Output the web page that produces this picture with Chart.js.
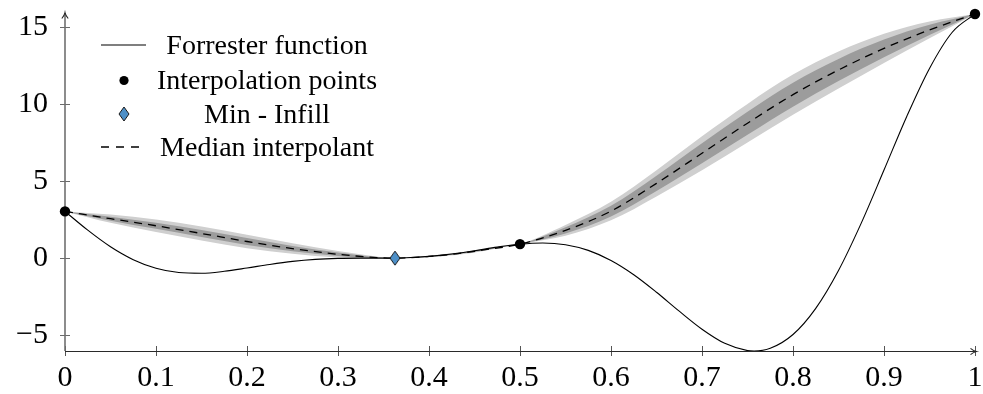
<!DOCTYPE html>
<html><head><meta charset="utf-8">
<script src="https://cdn.jsdelivr.net/npm/chart.js@4.4.1/dist/chart.umd.min.js"></script>
<style>html,body{margin:0;padding:0;background:#fff;}#wrap{width:983px;height:394px;}</style>
</head><body><div id="wrap"><canvas id="c" width="983" height="394"></canvas></div>
<script>
// ---- data ----
const funcX = [0,0.025,0.05,0.075,0.1,0.125,0.15,0.175,0.2,0.225,0.25,0.275,0.3,0.325,0.35,0.375,0.4,0.425,0.45,0.475,0.5,0.525,0.55,0.575,0.6,0.625,0.65,0.675,0.7,0.725,0.75,0.7572,0.775,0.8,0.825,0.85,0.875,0.9,0.925,0.95,0.975,1];
const funcY = [3.027,1.813,0.738,-0.100,-0.657,-0.935,-0.978,-0.854,-0.640,-0.407,-0.210,-0.079,-0.016,0.000,0.002,0.030,0.115,0.270,0.483,0.717,0.909,0.986,0.871,0.503,-0.150,-1.074,-2.209,-3.439,-4.606,-5.522,-5.993,-6.020,-5.845,-4.949,-3.254,-0.799,2.272,5.712,9.187,12.303,14.648,15.830];

const bandX      = [0,0.05,0.1,0.15,0.2,0.25,0.3,0.33,0.3626,0.4,0.43,0.46,0.5,0.55,0.6,0.65,0.7,0.75,0.8,0.85,0.9,0.95,1];
const medianY    = [3.03,2.56,2.10,1.60,1.08,0.62,0.25,0.09,0.00,0.11,0.28,0.53,0.91,1.80,3.05,4.85,6.80,8.75,10.60,12.20,13.60,14.80,15.83];
const outerHigh  = [3.03,2.83,2.51,2.05,1.51,0.96,0.46,0.20,0.00,0.16,0.35,0.59,0.91,2.15,3.65,5.70,7.90,10.00,11.90,13.40,14.55,15.35,15.83];
const outerLow   = [3.03,2.29,1.69,1.15,0.65,0.28,0.04,-0.01,0.00,0.06,0.21,0.47,0.91,1.45,2.45,4.00,5.70,7.50,9.30,11.00,12.65,14.25,15.83];
const innerHigh  = [3.03,2.69,2.30,1.83,1.30,0.79,0.36,0.14,0.00,0.135,0.315,0.56,0.91,2.00,3.40,5.35,7.45,9.50,11.38,12.92,14.17,15.13,15.83];
const innerLow   = [3.03,2.43,1.90,1.37,0.86,0.45,0.14,0.04,0.00,0.085,0.245,0.50,0.91,1.60,2.70,4.35,6.15,8.00,9.82,11.48,13.03,14.47,15.83];

const sampleX = [0, 0.5, 1];
const sampleY = [3.03, 0.91, 15.83];
const infillX = [0.3626];
const infillY = [0.0];

const xTicks = [0,0.1,0.2,0.3,0.4,0.5,0.6,0.7,0.8,0.9,1];
const xTickLabels = ['0','0.1','0.2','0.3','0.4','0.5','0.6','0.7','0.8','0.9','1'];
const yTicks = [-5,0,5,10,15];
const yTickLabels = ['\u22125','0','5','10','15'];
const legendLabels = ['Forrester function','Interpolation points','Min - Infill','Median interpolant'];

// ---- helpers ----
const pts = (xs, ys) => xs.map((x, i) => ({x: x, y: ys[i]}));
const FONT = '"Liberation Serif", "Times New Roman", serif';
const DIAMOND_FILL = '#4d8fc7';

function makeDiamond(w, h) {
  const c = document.createElement('canvas');
  c.width = w + 2; c.height = h + 2;
  const g = c.getContext('2d');
  g.beginPath();
  g.moveTo(c.width/2, 1); g.lineTo(c.width-1, c.height/2);
  g.lineTo(c.width/2, c.height-1); g.lineTo(1, c.height/2); g.closePath();
  g.fillStyle = DIAMOND_FILL; g.fill();
  g.lineWidth = 1; g.strokeStyle = '#1a1a1a'; g.stroke();
  return c;
}
const diamond = makeDiamond(10, 14);

const axesPlugin = {
  id: 'axesPlugin',
  beforeDatasetsDraw(chart) {
    const {ctx, chartArea: a, scales: {x, y}} = chart;
    ctx.save();
    ctx.lineWidth = 1;
    ctx.strokeStyle = '#6a6a6a';
    yTicks.forEach(v => {
      const py = Math.round(y.getPixelForValue(v)) + 0.5;
      ctx.beginPath(); ctx.moveTo(a.left - 5, py); ctx.lineTo(a.left + 5, py); ctx.stroke();
    });
    ctx.strokeStyle = '#555';
    xTicks.forEach(v => {
      const px = Math.round(x.getPixelForValue(v)) + 0.5;
      ctx.beginPath(); ctx.moveTo(px, a.bottom - 5); ctx.lineTo(px, a.bottom + 5); ctx.stroke();
    });
    // y axis
    ctx.strokeStyle = '#707070'; ctx.lineWidth = 1.6;
    const ax = a.left;
    ctx.beginPath(); ctx.moveTo(ax, a.bottom); ctx.lineTo(ax, a.top - 0.5); ctx.stroke();
    ctx.lineWidth = 1.1; ctx.strokeStyle = '#222';
    ctx.beginPath();
    ctx.moveTo(ax - 3.2, a.top + 4.5); ctx.quadraticCurveTo(ax - 0.6, a.top + 1.5, ax, a.top - 1.5);
    ctx.quadraticCurveTo(ax + 0.6, a.top + 1.5, ax + 3.2, a.top + 4.5);
    ctx.stroke();
    // x axis
    const ay = Math.round(a.bottom) + 0.5;
    ctx.strokeStyle = '#2a2a2a'; ctx.lineWidth = 1.1;
    ctx.beginPath(); ctx.moveTo(a.left, ay); ctx.lineTo(a.right + 1, ay); ctx.stroke();
    ctx.beginPath();
    ctx.moveTo(a.right - 4.5, ay - 3.2); ctx.quadraticCurveTo(a.right - 1.5, ay - 0.6, a.right + 1.5, ay);
    ctx.quadraticCurveTo(a.right - 1.5, ay + 0.6, a.right - 4.5, ay + 3.2);
    ctx.stroke();
    ctx.restore();
  }
};

const legendPlugin = {
  id: 'legendPlugin',
  afterDraw(chart) {
    const ctx = chart.ctx;
    const rows = [45, 80.5, 114, 147];
    const x0 = 101, x1 = 146, xm = 124, tx = 267;
    ctx.save();
    ctx.strokeStyle = '#000'; ctx.lineWidth = 1.1;
    ctx.beginPath(); ctx.moveTo(x0, rows[0]); ctx.lineTo(x1, rows[0]); ctx.stroke();
    ctx.fillStyle = '#000';
    ctx.beginPath(); ctx.arc(xm, rows[1], 4.6, 0, Math.PI * 2); ctx.fill();
    ctx.drawImage(diamond, xm - diamond.width / 2, rows[2] - diamond.height / 2);
    ctx.setLineDash([8, 7]); ctx.lineWidth = 1.3;
    ctx.beginPath(); ctx.moveTo(x0, rows[3]); ctx.lineTo(x1, rows[3]); ctx.stroke();
    ctx.setLineDash([]);
    ctx.font = '28px ' + FONT;
    ctx.textAlign = 'center'; ctx.textBaseline = 'alphabetic';
    legendLabels.forEach((t, i) => ctx.fillText(t, tx, rows[i] + 8.5));
    ctx.restore();
  }
};

new Chart(document.getElementById('c'), {
  type: 'line',
  data: {
    datasets: [
      {label: 'outerHigh', data: pts(bandX, outerHigh), borderWidth: 0, pointRadius: 0, fill: '+1',
       backgroundColor: '#cfcfcf', borderColor: 'rgba(0,0,0,0)', cubicInterpolationMode: 'monotone', order: 6},
      {label: 'outerLow', data: pts(bandX, outerLow), borderWidth: 0, pointRadius: 0, fill: false,
       borderColor: 'rgba(0,0,0,0)', cubicInterpolationMode: 'monotone', order: 5},
      {label: 'innerHigh', data: pts(bandX, innerHigh), borderWidth: 0, pointRadius: 0, fill: '+1',
       backgroundColor: '#9c9c9c', borderColor: 'rgba(0,0,0,0)', cubicInterpolationMode: 'monotone', order: 4},
      {label: 'innerLow', data: pts(bandX, innerLow), borderWidth: 0, pointRadius: 0, fill: false,
       borderColor: 'rgba(0,0,0,0)', cubicInterpolationMode: 'monotone', order: 3},
      {label: legendLabels[0], data: pts(funcX, funcY), borderColor: '#000', borderWidth: 1.1, pointRadius: 0,
       fill: false, cubicInterpolationMode: 'monotone', order: 2},
      {label: legendLabels[3], data: pts(bandX, medianY), borderColor: '#000', borderWidth: 1.3, borderDash: [8, 6],
       pointRadius: 0, fill: false, cubicInterpolationMode: 'monotone', order: 1},
      {label: legendLabels[1], data: pts(sampleX, sampleY), showLine: false, pointRadius: 5.2,
       pointBackgroundColor: '#000', pointBorderColor: '#000', pointBorderWidth: 0, clip: false, order: 0},
      {label: legendLabels[2], data: pts(infillX, infillY), showLine: false, pointStyle: diamond,
       clip: false, order: 0}
    ]
  },
  options: {
    responsive: false, animation: false, devicePixelRatio: 1,
    layout: {padding: {left: 0, right: 8, top: 14, bottom: 0}},
    plugins: {legend: {display: false}, tooltip: {enabled: false}, filler: {propagate: false}},
    scales: {
      x: {
        type: 'linear', min: 0, max: 1,
        grid: {display: false, drawTicks: false}, border: {display: false},
        afterBuildTicks: s => { s.ticks = xTicks.map(v => ({value: v})); },
        afterFit: s => { s.height = 43; s.paddingLeft = 0; s.paddingRight = 0; },
        ticks: {autoSkip: false, maxRotation: 0, padding: 9, color: '#000',
          font: {family: FONT, size: 30}, callback: (v, i) => xTickLabels[i]}
      },
      y: {
        type: 'linear', min: -6.02, max: 15.83,
        grid: {display: false, drawTicks: false}, border: {display: false},
        afterBuildTicks: s => { s.ticks = yTicks.map(v => ({value: v})); },
        afterFit: s => { s.width = 65; s.paddingTop = 0; s.paddingBottom = 0; },
        ticks: {autoSkip: false, padding: 17, color: '#000',
          font: {family: FONT, size: 30}, callback: (v, i) => yTickLabels[i]}
      }
    }
  },
  plugins: [axesPlugin, legendPlugin]
});
</script></body></html>
